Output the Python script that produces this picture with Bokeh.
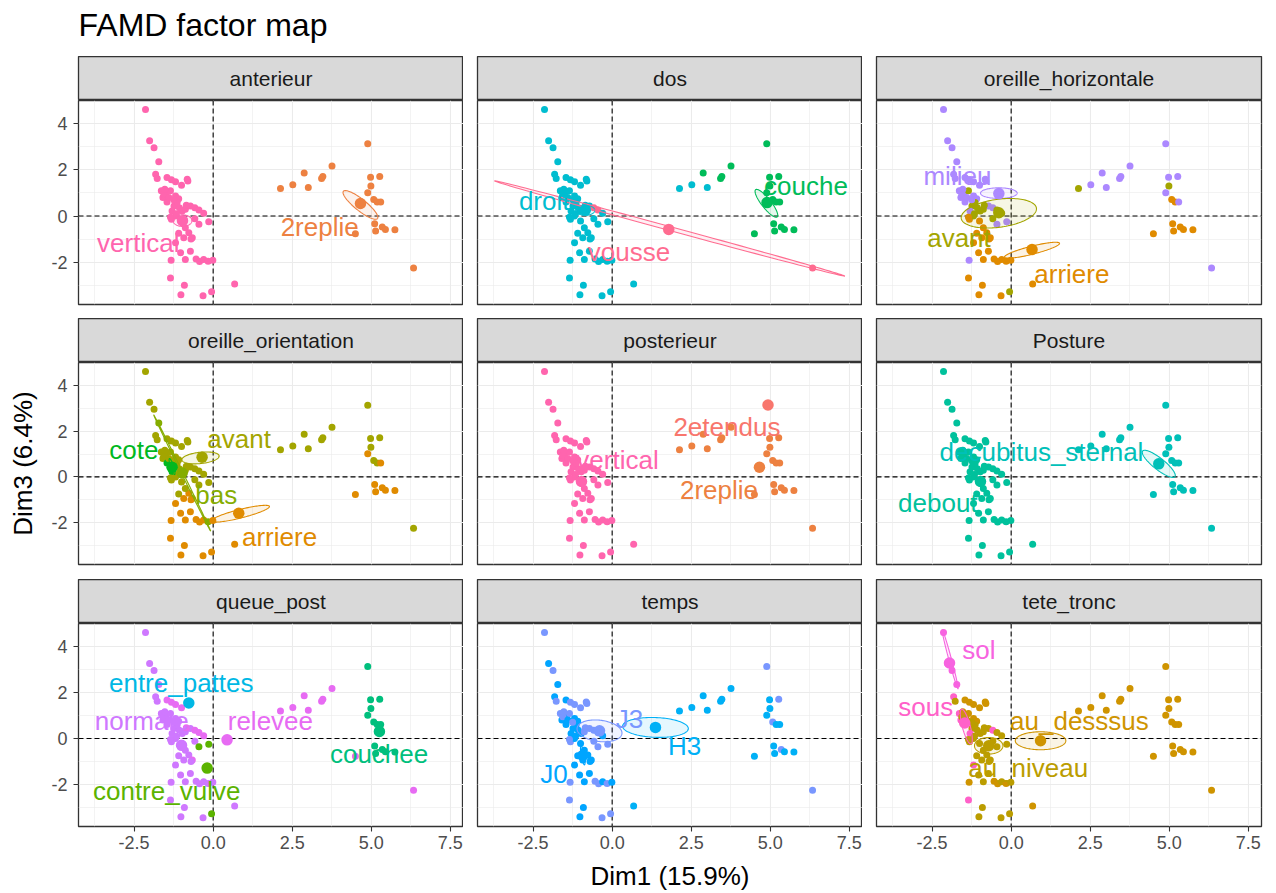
import math
import numpy as np
from bokeh.plotting import figure
from bokeh.layouts import column, row
from bokeh.models import Range1d, FixedTicker, Span, ColumnDataSource, PrintfTickFormatter
from bokeh.core.properties import value
from bokeh.embed import file_html
from bokeh.resources import INLINE

FONT = "Liberation Sans"

# ---------------- texts / ticks ----------------
title_text = "FAMD factor map"
x_title = "Dim1 (15.9%)"
y_title = "Dim3 (6.4%)"
x_ticks = [-2.5, 0.0, 2.5, 5.0, 7.5]
x_tick_labels = ["-2.5", "0.0", "2.5", "5.0", "7.5"]
x_minor = [-3.75, -1.25, 1.25, 3.75, 6.25]
y_ticks = [-2, 0, 2, 4]
y_tick_labels = ["-2", "0", "2", "4"]
y_minor = [-3, -1, 1, 3]

facets = ["anterieur", "dos", "oreille_horizontale",
          "oreille_orientation", "posterieur", "Posture",
          "queue_post", "temps", "tete_tronc"]

# ---------------- individuals (Dim1, Dim3) ----------------
ind_x = [-2.14, -2.01, -1.87, -1.72, -1.82, -1.77, -1.46, -1.32, -1.19, -1.00,
         -0.82, -1.64, -1.49, -1.35, -1.59, -1.46, -1.19, -1.09, -1.24, -1.07,
         -0.98, -1.30, -0.72, -0.58, -0.45, -0.30, -1.32, -1.00, -0.58, -0.45,
         -0.14, -1.09, -0.93, -0.77, -0.66, -1.19, -1.03, -0.72, -1.33, -0.88,
         -0.54, -0.43, -0.30, -0.16, -0.01, -1.35, -0.91, -1.02, -0.32, -0.05,
         0.68, -1.56, -1.14, -0.88, -1.19, -0.88,
         -1.53, -1.40, -1.25, -0.85, -1.16, -1.35, -0.70, -0.80,
         2.13, 2.52, 2.88, 3.01, 3.43, 3.47, 3.76, 4.89, 4.98, 5.27,
         4.99, 4.89, 5.08, 5.19, 5.30, 5.11, 5.14, 5.35, 5.45, 5.75,
         4.50, 6.34]
ind_y = [4.61, 3.26, 2.96, 2.35, 1.81, 1.62, 1.67, 1.57, 1.48, 1.33,
         1.59, 1.09, 1.01, 1.09, 0.80, 0.61, 0.87, 0.75, 0.43, 0.36,
         0.22, 0.22, 0.43, 0.36, 0.26, 0.12, -0.14, -0.22, -0.12, -0.36,
         -0.25, -0.75, -0.94, -0.72, -0.94, -1.16, -1.59, -1.52, -1.91, -1.88,
         -1.86, -1.97, -1.88, -1.96, -1.91, -2.68, -3.00, -3.41, -3.45, -3.28,
         -2.94, 0.94, 0.58, 0.29, 0.00, -0.51,
         1.16, 0.80, 0.70, 0.47, 0.10, -0.05, -1.00, 1.52,
         1.19, 1.35, 1.86, 1.23, 1.62, 1.71, 2.17, 3.13, 1.68, 1.71,
         1.30, 1.01, 0.72, 0.61, 0.61, -0.33, -0.65, -0.48, -0.58, -0.59,
         -0.77, -2.25]

# ---------------- category of each individual, per variable ----------------
cat_anterieur = "VVVVVVVVVV VVVVVVVVVV VVVVVVVVVV VVVVVVVVVV VVVVVVVVVV VVVVVV VVVVVVVV | RRRRRRRRRR RRRRRRRRRR RR"
lev_anterieur = {"V": "vertical", "R": "2replie"}
cat_dos = "DDDDDDDDDD DDDDDDDDDD DDDSSDDDDD DDDDDDDDDD DDDDDDDDDD DDDDDD DDDDDDDD | DDCDCCCCCC CCCCCCCCCC CS"
lev_dos = {"D": "droit", "C": "couche", "S": "vousse"}
cat_horiz = "MMMMMMMMMM MMMAMMMMAA AMMMAARRAM MRRRRRRRMR RRRRRRRRRA RMAAAR MMMAARRM | AMMMMMMMMM AMRRMRRRRR RM"
lev_horiz = {"M": "milieu", "A": "avant", "R": "arriere"}
cat_orient = "AAABAAAAAA AAAAACAACA ACAAAAAAAA AARRARRRRR RRRBRRRRRR RAAAAA AAAAAARA | AAAAAAAAAA ARAARRRRRR RA"
lev_orient = {"A": "avant", "R": "arriere", "B": "bas", "C": "cote"}
cat_post = "VVVVVVVVVV VVVVVVVVVV VVVVVVVVVV VVVVVVVVVV VVVVVVVVVV VVVVVV VVVVVVVV | RRRRRRRERR RRRRRRRRRR RR"
lev_post = {"V": "vertical", "R": "2replie", "E": "2etendus"}
cat_posture = "DDDDDDDDDD DDDDDDDDDD DDDDDDDDDD DDDDDDDDDD DDDDDDDDDD DDDDDD DDDDDDDD | SSSSSSSSSS SSSSSSSSSS SS"
lev_posture = {"D": "debout", "S": "decubitus_sternal"}
cat_queue = "NNNNNNRRRR ENNNNNNNNN NNNRRRNNNV VNNNRNNNNN NNNNNNNNNV NNNNNN NNNRNNNR | RRRRRRRCCC CCCCCCCCCC RR"
lev_queue = {"V": "contre_vulve", "C": "couchee", "E": "entre_pattes", "N": "normale", "R": "relevee"}
cat_temps = "KJKJJKJKKK KKJKJJJJJJ JJKKKJKJKK KJJJJJJJKJ KKJKJKJJKK HKJKJJ KJKKJKJK | HHHHHHHKHK HHKHHHHKHH HK"
lev_temps = {"H": "H3", "J": "J0", "K": "J3"}
cat_tete = "SSSSONDDDD DODDOODDNN NONONNNNNN NNNNNONNDN DDNDNONNNN DNNNNN DNNNNNND | DDDDDDDDDD DDDDDDDDDD DD"
lev_tete = {"S": "sol", "O": "sous", "D": "au_desssus", "N": "au_niveau"}

facet_codes = [cat_anterieur, cat_dos, cat_horiz, cat_orient, cat_post,
               cat_posture, cat_queue, cat_temps, cat_tete]
facet_levels = [lev_anterieur, lev_dos, lev_horiz, lev_orient, lev_post,
                lev_posture, lev_queue, lev_temps, lev_tete]

# all levels (colour scale order)
all_levels = ["2etendus", "2replie", "arriere", "au_desssus", "au_niveau", "avant",
              "bas", "contre_vulve", "cote", "couche", "couchee", "debout",
              "decubitus_sternal", "droit", "entre_pattes", "H3", "J0", "J3",
              "milieu", "normale", "relevee", "sol", "sous", "vertical", "vousse"]

# ---------------- category means and their labels ----------------
mean_var = ["anterieur", "anterieur", "dos", "dos", "dos",
            "oreille_horizontale", "oreille_horizontale", "oreille_horizontale",
            "oreille_orientation", "oreille_orientation", "oreille_orientation", "oreille_orientation",
            "posterieur", "posterieur", "posterieur", "Posture", "Posture",
            "queue_post", "queue_post", "queue_post", "queue_post", "queue_post",
            "temps", "temps", "temps", "tete_tronc", "tete_tronc", "tete_tronc", "tete_tronc"]
mean_level = ["vertical", "2replie", "droit", "couche", "vousse",
              "milieu", "avant", "arriere", "avant", "arriere", "bas", "cote",
              "vertical", "2replie", "2etendus", "debout", "decubitus_sternal",
              "normale", "relevee", "entre_pattes", "contre_vulve", "couchee",
              "J0", "J3", "H3", "au_niveau", "au_desssus", "sol", "sous"]
mean_x = [-0.97, 4.66, -0.85, 4.90, 1.79, -0.39, -0.39, 0.66, -0.35, 0.81, -0.98, -1.30,
          -0.97, 4.66, 4.93, -0.97, 4.67, -1.00, 0.44, -0.77, -0.19, 5.26,
          -0.93, -0.40, 1.37, -0.71, 0.93, -1.95, -1.47]
mean_y = [-0.20, 0.54, 0.25, 0.58, -0.58, 0.97, 0.14, -1.45, 0.86, -1.59, 0.17, 0.42,
          -0.20, 0.42, 3.14, -0.20, 0.57, -0.30, -0.06, 1.54, -1.29, 0.30,
          -0.74, 0.33, 0.48, -0.32, -0.10, 3.28, 0.67]
label_x = [-2.37, 3.37, -2.15, 6.13, 0.53, -1.70, -1.65, 1.92, 0.82, 2.10, 0.10, -2.51,
           0.17, 3.38, 3.63, -2.32, 0.96, -2.26, 1.81, -1.01, -1.47, 5.25,
           -1.84, 0.55, 2.29, 0.54, 2.16, -1.02, -2.70]
label_y = [-1.16, -0.46, 0.65, 1.30, -1.55, 1.74, -0.94, -2.51, 1.65, -2.62, -0.78, 1.17,
           0.74, -0.58, 2.17, -1.13, 1.09, 0.78, 0.78, 2.42, -2.30, -0.68,
           -1.55, 0.83, -0.33, -1.29, 0.74, 3.86, 1.35]

# ---------------- confidence ellipses (centre, semi-axis vectors) ----------------
ell_var = ["anterieur", "anterieur", "dos", "dos", "dos",
           "oreille_horizontale", "oreille_horizontale", "oreille_horizontale",
           "oreille_orientation", "oreille_orientation", "oreille_orientation", "oreille_orientation",
           "Posture", "temps", "temps", "temps",
           "tete_tronc", "tete_tronc", "tete_tronc", "tete_tronc"]
ell_level = ["vertical", "2replie", "droit", "couche", "vousse", "milieu", "avant", "arriere",
             "avant", "arriere", "bas", "cote", "decubitus_sternal", "H3", "J3", "J0",
             "sol", "sous", "au_desssus", "au_niveau"]
ell_cx = [-0.97, 4.66, -0.85, 4.88, 1.82, -0.39, -0.39, 0.66, -0.40, 0.86, -0.98, -1.30,
          4.67, 1.37, -0.40, -0.93, -1.93, -1.42, 0.93, -0.71]
ell_cy = [-0.20, 0.48, 0.25, 0.55, -0.54, 0.99, 0.12, -1.48, 0.83, -1.61, 0.17, 0.45,
          0.57, 0.48, 0.33, -0.74, 3.44, 0.52, -0.10, -0.32]
ell_ax = [0.30, 0.54, 0.30, 0.34, 5.54, 0.58, 1.19, 0.87, 0.59, 0.92, 0.90, 0.08,
          0.51, 1.04, 0.71, 0.053, 0.25, 0.148, 0.80, 0.45]
ell_ay = [0.0, -0.59, 0.0, -0.59, -2.06, 0.0, 0.22, 0.30, 0.087, 0.32, -2.54, -0.35,
          -0.56, -0.05, -0.12, -0.41, -1.28, -0.754, 0.0, 0.0]
ell_bx = [0.0, 0.113, 0.0, 0.116, -0.017, 0.0, 0.058, 0.031, 0.019, 0.034, 0.024, 0.05,
          0.113, 0.0, 0.04, 0.05, 0.041, 0.121, 0.0, 0.0]
ell_by = [0.25, 0.193, 0.22, 0.125, -0.084, 0.23, -0.60, -0.168, -0.246, -0.18, 0.016, 0.012,
          0.193, 0.43, 0.46, 0.0, 0.015, 0.045, 0.39, 0.36]


# ---------------- colour scale (ggplot hue palette) ----------------
def hcl_hex(h, c=100.0, l=65.0):
    Xn, Yn, Zn = 95.047, 100.0, 108.883
    hr = math.radians(h)
    U = c * math.cos(hr)
    V = c * math.sin(hr)
    Y = Yn * ((l + 16.0) / 116.0) ** 3
    den = Xn + 15 * Yn + 3 * Zn
    uN = 4 * Xn / den
    vN = 9 * Yn / den
    u = U / (13 * l) + uN
    v = V / (13 * l) + vN
    X = 9.0 * Y * u / (4 * v)
    Z = -X / 3.0 - 5.0 * Y + 3.0 * Y / v
    X, Y, Z = X / 100.0, Y / 100.0, Z / 100.0
    r = 3.240479 * X - 1.537150 * Y - 0.498535 * Z
    g = -0.969256 * X + 1.875992 * Y + 0.041556 * Z
    b = 0.055648 * X - 0.204043 * Y + 1.057311 * Z

    def gam(t):
        t = 12.92 * t if t <= 0.0031308 else 1.055 * t ** (1 / 2.4) - 0.055
        return int(round(255 * min(1.0, max(0.0, t))))
    return "#%02X%02X%02X" % (gam(r), gam(g), gam(b))


n_lev = len(all_levels)
level_color = {lv: hcl_hex(15 + 360.0 * i / n_lev) for i, lv in enumerate(all_levels)}

XR = (-4.26, 7.92)
YR = (-3.83, 5.0)
frame_h = [204, 202, 203]
gap_b = [14, 15, 67]
FRAME_W = 385


def side_borders(ci):
    return (78 if ci == 0 else 14), (15 if ci == 2 else 0)


def make_strip(k):
    ri, ci = divmod(k, 3)
    bl, br = side_borders(ci)
    s = figure(frame_width=FRAME_W, frame_height=44, x_range=Range1d(0, 1), y_range=Range1d(0, 1),
               x_axis_location=None, y_axis_location=None, tools="", toolbar_location=None,
               output_backend="svg", min_border=0, min_border_left=bl, min_border_right=br,
               min_border_top=0, min_border_bottom=0,
               background_fill_color="#D9D9D9", border_fill_color="white")
    s.grid.visible = False
    s.outline_line_color = "#333333"
    s.outline_line_width = 1.3
    s.text(x=[0.5], y=[0.5], text=[facets[k]], text_color="#1A1A1A",
           text_font=value(FONT), text_font_size="21px",
           text_align="center", text_baseline="middle")
    return s


def make_panel(k):
    ri, ci = divmod(k, 3)
    var = facets[k]
    bl, br = side_borders(ci)
    p = figure(frame_width=FRAME_W, frame_height=frame_h[ri],
               x_range=Range1d(*XR), y_range=Range1d(*YR),
               x_axis_location="below" if ri == 2 else None,
               y_axis_location="left" if ci == 0 else None,
               tools="", toolbar_location=None, output_backend="svg",
               min_border=0, min_border_left=bl, min_border_right=br,
               min_border_top=0, min_border_bottom=gap_b[ri],
               background_fill_color="white", border_fill_color="white")
    p.outline_line_color = "#333333"
    p.outline_line_width = 1.3
    p.xgrid.ticker = FixedTicker(ticks=x_ticks, minor_ticks=x_minor)
    p.ygrid.ticker = FixedTicker(ticks=y_ticks, minor_ticks=y_minor)
    for g in (p.xgrid, p.ygrid):
        g.grid_line_color = "#EBEBEB"
        g.grid_line_width = 1.1
        g.minor_grid_line_color = "#EBEBEB"
        g.minor_grid_line_width = 0.6

    def style_axis(ax):
        ax.axis_line_color = None
        ax.major_tick_line_color = "#333333"
        ax.major_tick_line_width = 1.1
        ax.major_tick_out = 5
        ax.major_tick_in = 0
        ax.minor_tick_line_color = None
        ax.major_label_text_font = FONT
        ax.major_label_text_font_size = "18px"
        ax.major_label_text_color = "#4D4D4D"
        ax.axis_label_text_font = FONT
        ax.axis_label_text_font_size = "26px"
        ax.axis_label_text_font_style = "normal"
        ax.axis_label_text_color = "black"

    if ri == 2:
        ax = p.xaxis[0]
        style_axis(ax)
        ax.ticker = FixedTicker(ticks=x_ticks, minor_ticks=x_minor)
        ax.formatter = PrintfTickFormatter(format="%.1f")
        ax.major_label_overrides = {t: l for t, l in zip(x_ticks, x_tick_labels)}
        ax.major_label_standoff = 4
        if ci == 1:
            ax.axis_label = x_title
            ax.axis_label_standoff = 9
    if ci == 0:
        ay = p.yaxis[0]
        style_axis(ay)
        ay.ticker = FixedTicker(ticks=y_ticks, minor_ticks=y_minor)
        ay.major_label_overrides = {t: l for t, l in zip(y_ticks, y_tick_labels)}
        ay.major_label_standoff = 6
        if ri == 1:
            ay.axis_label = y_title
            ay.axis_label_standoff = 10

    p.add_layout(Span(location=0, dimension="height", line_color="black",
                      line_dash="5 3", line_width=1.1, level="underlay"))
    p.add_layout(Span(location=0, dimension="width", line_color="black",
                      line_dash="5 3", line_width=1.1, level="underlay"))

    codes = facet_codes[k].replace(" ", "").replace("|", "")
    levs = facet_levels[k]
    cols = [level_color[levs[c]] for c in codes]
    src = ColumnDataSource(dict(x=ind_x, y=ind_y, c=cols))
    p.scatter("x", "y", source=src, size=7, fill_color="c", line_color=None)

    # ellipses
    t = np.linspace(0, 2 * np.pi, 120)
    exs, eys, ecs = [], [], []
    for i, v in enumerate(ell_var):
        if v != var:
            continue
        exs.append(list(ell_cx[i] + ell_ax[i] * np.cos(t) + ell_bx[i] * np.sin(t)))
        eys.append(list(ell_cy[i] + ell_ay[i] * np.cos(t) + ell_by[i] * np.sin(t)))
        ecs.append(level_color[ell_level[i]])
    if exs:
        p.patches(exs, eys, fill_color=ecs, fill_alpha=0.1, line_color=ecs, line_width=1.1)

    # means and labels
    mx, my, mc, lx, ly, lt = [], [], [], [], [], []
    for i, v in enumerate(mean_var):
        if v != var:
            continue
        mx.append(mean_x[i]); my.append(mean_y[i])
        mc.append(level_color[mean_level[i]])
        lx.append(label_x[i]); ly.append(label_y[i]); lt.append(mean_level[i])
    p.scatter(mx, my, size=11.5, fill_color=mc, line_color=None)
    p.text(x=lx, y=ly, text=lt, text_color=mc, text_font=value(FONT),
           text_font_size="26px", text_align="center", text_baseline="middle")
    return p


# title
tfig = figure(frame_width=1276, frame_height=56, x_range=Range1d(0, 1276), y_range=Range1d(0, 56),
              x_axis_location=None, y_axis_location=None, tools="", toolbar_location=None,
              output_backend="svg", min_border=0, outline_line_color=None,
              background_fill_color="white", border_fill_color="white")
tfig.grid.visible = False
tfig.text(x=[78], y=[31.5], text=[title_text], text_color="black", text_font=value(FONT),
          text_font_size="32px", text_align="left", text_baseline="alphabetic")

columns = []
for ci in range(3):
    items = []
    for ri in range(3):
        k = ri * 3 + ci
        items.append(make_strip(k))
        items.append(make_panel(k))
    columns.append(column(*items, spacing=0))

layout = column(tfig, row(*columns, spacing=0), spacing=0)

open("out.html", "w").write(file_html(layout, INLINE, title="FAMD factor map"))
